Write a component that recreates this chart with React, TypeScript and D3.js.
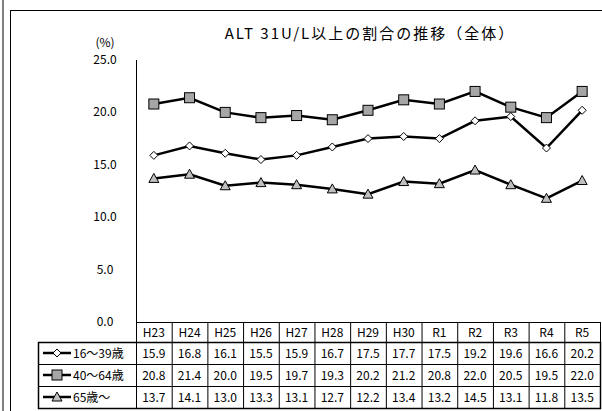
import * as d3 from "d3";

const years = ["H23", "H24", "H25", "H26", "H27", "H28", "H29", "H30", "R1", "R2", "R3", "R4", "R5"];
const seriesNames = ["16～39歳", "40～64歳", "65歳～"];
const young = [15.9, 16.8, 16.1, 15.5, 15.9, 16.7, 17.5, 17.7, 17.5, 19.2, 19.6, 16.6, 20.2];
const middle = [20.8, 21.4, 20.0, 19.5, 19.7, 19.3, 20.2, 21.2, 20.8, 22.0, 20.5, 19.5, 22.0];
const old = [13.7, 14.1, 13.0, 13.3, 13.1, 12.7, 12.2, 13.4, 13.2, 14.5, 13.1, 11.8, 13.5];
const yTicks = [0, 5, 10, 15, 20, 25];

const font = "'Noto Sans CJK JP', 'Noto Sans', sans-serif";

function Marker({ kind, x, y }: { kind: number; x: number; y: number }) {
  if (kind === 0)
    return <path d={`M${x},${y - 4}L${x + 4},${y}L${x},${y + 4}L${x - 4},${y}Z`} fill="#fff" stroke="#000" strokeWidth={1} />;
  if (kind === 1)
    return <rect x={x - 5} y={y - 5} width={10} height={10} fill="#a6a6a6" stroke="#000" strokeWidth={1} />;
  return <path d={`M${x},${y - 5}L${x + 5},${y + 4}L${x - 5},${y + 4}Z`} fill="#bfbfbf" stroke="#000" strokeWidth={1} />;
}

export default function App() {
  const left = 136, right = 600, top = 60, bottom = 322;
  const x = d3.scaleBand().domain(years).range([left, right]);
  const y = d3.scaleLinear().domain([0, 25]).range([bottom, top]);
  const line = d3.line<number>().x((_, i) => x(years[i])! + x.bandwidth() / 2).y((d) => y(d));
  const all = [young, middle, old];
  const rowH = 22, headH = 20;
  const legendL = 38;

  return (
    <svg width={602} height={411} style={{ position: "absolute", left: 0, top: 0, background: "#fff" }} fontFamily={font}>
      <line x1={3} y1={0} x2={3} y2={411} stroke="#000" />
      <rect x={10.5} y={10.5} width={600} height={410} fill="none" stroke="#000" />
      <text x={370} y={39} textAnchor="middle" fontSize={15} letterSpacing={2}>ALT 31U/L以上の割合の推移（全体）</text>
      <text x={105} y={47} textAnchor="middle" fontSize={12}>(%)</text>
      {yTicks.map((t) => (
        <text key={t} x={105} y={y(t) + 4} textAnchor="middle" fontSize={12}>{t.toFixed(1)}</text>
      ))}
      <line x1={left + 0.5} y1={top} x2={left + 0.5} y2={bottom} stroke="#000" />
      {all.map((s, k) => (
        <g key={k}>
          <path d={line(s)!} fill="none" stroke="#000" strokeWidth={2.5} />
          {s.map((v, i) => (
            <Marker key={i} kind={k} x={x(years[i])! + x.bandwidth() / 2} y={y(v)} />
          ))}
        </g>
      ))}
      {/* table */}
      <g stroke="#000" fill="none">
        <rect x={left + 0.5} y={bottom + 0.5} width={right - left} height={headH + rowH * 3} />
        <rect x={legendL + 0.5} y={bottom + headH + 0.5} width={right - legendL} height={rowH * 3} strokeWidth={1.5} />
        {years.map((yr, i) => (
          <line key={yr} x1={x(yr)! + 0.5} y1={bottom} x2={x(yr)! + 0.5} y2={bottom + headH + rowH * 3} />
        ))}
        {[0, 1, 2].map((r) => (
          <line key={r} x1={legendL} y1={bottom + headH + rowH * r + 0.5} x2={right} y2={bottom + headH + rowH * r + 0.5} />
        ))}
      </g>
      {years.map((yr) => (
        <text key={yr} x={x(yr)! + x.bandwidth() / 2} y={bottom + 15} textAnchor="middle" fontSize={12}>{yr}</text>
      ))}
      {all.map((s, k) => {
        const cy = bottom + headH + rowH * k + rowH / 2;
        return (
          <g key={k}>
            <line x1={legendL + 5} y1={cy} x2={legendL + 33} y2={cy} stroke="#000" strokeWidth={2.5} />
            <Marker kind={k} x={legendL + 19} y={cy} />
            <text x={legendL + 35} y={cy + 4.5} fontSize={12}>{seriesNames[k]}</text>
            {s.map((v, i) => (
              <text key={i} x={x(years[i])! + x.bandwidth() / 2} y={cy + 4.5} textAnchor="middle" fontSize={12}>{v.toFixed(1)}</text>
            ))}
          </g>
        );
      })}
    </svg>
  );
}
